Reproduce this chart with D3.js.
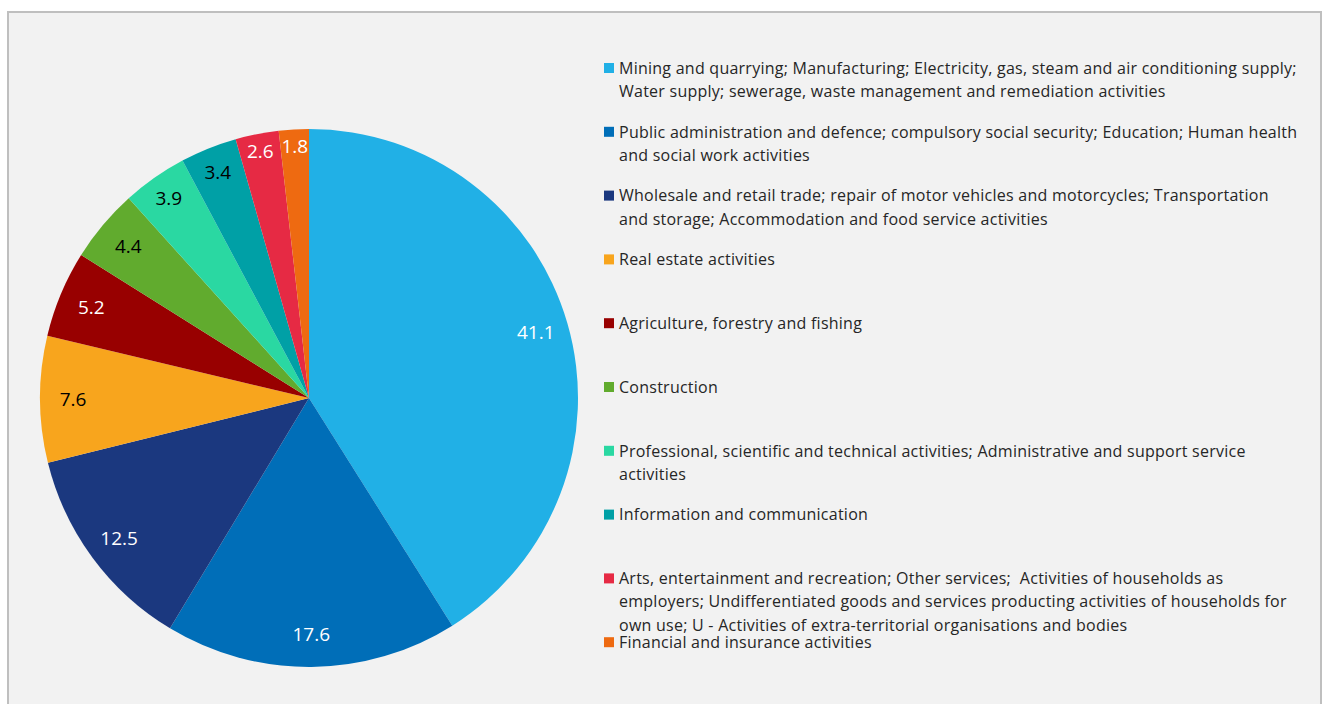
<!DOCTYPE html>
<html>
<head>
<meta charset="utf-8">
<script src="https://cdn.jsdelivr.net/npm/d3@7"></script>
<style>
  body { margin: 0; background: #ffffff; }
  svg { display: block; }
  text { font-family: "Open Sans", Lato, sans-serif; white-space: pre; }
</style>
</head>
<body>
<div id="chart"></div>
<script>
// shares in percent, clockwise from 12 o'clock
const values = [41.1, 17.6, 12.5, 7.6, 5.2, 4.4, 3.9, 3.4, 2.6, 1.8];
const colors = ["#21b0e6", "#006eb8", "#1b387f", "#f8a51d", "#980000",
                "#61ab2e", "#2ad8a2", "#00a0a6", "#e62a44", "#ee6a11"];
const labelColors = ["#fff", "#fff", "#fff", "#000", "#fff",
                     "#000", "#000", "#000", "#fff", "#fff"];
const legendLines = [
    ["Mining and quarrying; Manufacturing; Electricity, gas, steam and air conditioning supply;",
     "Water supply; sewerage, waste management and remediation activities"],
    ["Public administration and defence; compulsory social security; Education; Human health",
     "and social work activities"],
    ["Wholesale and retail trade; repair of motor vehicles and motorcycles; Transportation",
     "and storage; Accommodation and food service activities"],
    ["Real estate activities"],
    ["Agriculture, forestry and fishing"],
    ["Construction"],
    ["Professional, scientific and technical activities; Administrative and support service",
     "activities"],
    ["Information and communication"],
    ["Arts, entertainment and recreation; Other services;  Activities of households as",
     "employers; Undifferentiated goods and services producting activities of households for",
     "own use; U - Activities of extra-territorial organisations and bodies"],
    ["Financial and insurance activities"]
];

const width = 1326, height = 704;
const cx = 309, cy = 398, radius = 269;

const svg = d3.select("#chart").append("svg")
    .attr("width", width)
    .attr("height", height);

// chart area frame
svg.append("rect")
    .attr("x", 8).attr("y", 12)
    .attr("width", 1313).attr("height", 700)
    .attr("fill", "#f2f2f2")
    .attr("stroke", "#bfbfbf")
    .attr("stroke-width", 2);

const pie = d3.pie().sort(null).value(d => d);
const arcs = pie(values);
const arc = d3.arc().innerRadius(0).outerRadius(radius);

const g = svg.append("g").attr("transform", "translate(" + cx + "," + cy + ")");

g.selectAll("path.slice")
    .data(arcs)
    .enter().append("path")
    .attr("class", "slice")
    .attr("d", arc)
    .attr("fill", (d, i) => colors[i]);

// labels sit near the rim, small slices pushed a bit further out
const labelArc = d => {
    let r = d.data < 4 ? 244 : 236;
    if (d.data < 3) r = 252;
    return d3.arc().innerRadius(r).outerRadius(r).centroid(d);
};

g.selectAll("text.lbl")
    .data(arcs)
    .enter().append("text")
    .attr("class", "lbl")
    .attr("transform", d => "translate(" + labelArc(d) + ")")
    .attr("text-anchor", "middle")
    .attr("dy", "0.36em")
    .attr("font-size", 19)
    .attr("fill", (d, i) => labelColors[i])
    .text(d => d.data.toFixed(1));

// legend
const legend = svg.append("g").attr("transform", "translate(604,68)");
const step = 63.8, lineH = 23.3;

const item = legend.selectAll("g.item")
    .data(legendLines)
    .enter().append("g")
    .attr("class", "item")
    .attr("transform", (d, i) => "translate(0," + (i * step) + ")");

item.append("rect")
    .attr("x", 0).attr("y", -5)
    .attr("width", 10).attr("height", 10)
    .attr("fill", (d, i) => colors[i]);

item.each(function (lines) {
    const t = d3.select(this).append("text")
        .attr("x", 15)
        .attr("font-size", 16)
        .attr("letter-spacing", 0.25)
        .attr("fill", "#262626");
    lines.forEach((ln, k) => {
        t.append("tspan")
            .attr("x", 15)
            .attr("y", k * lineH)
            .attr("dy", "0.36em")
            .text(ln);
    });
});
</script>
</body>
</html>
